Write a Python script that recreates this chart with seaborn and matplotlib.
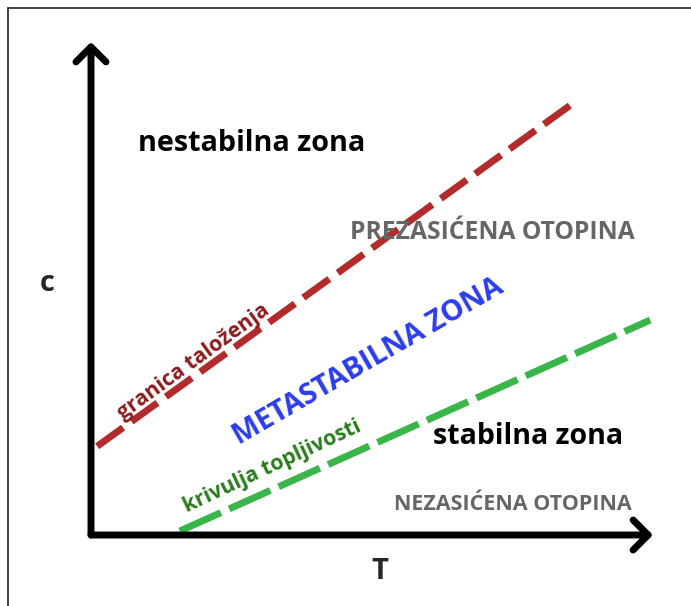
import matplotlib
matplotlib.use('Agg')
import matplotlib.pyplot as plt
from matplotlib.lines import Line2D
import seaborn as sns
import pandas as pd

# boundary lines (T, c) endpoints
red_T = [0.11, 8.58]
red_c = [1.80, 8.76]
green_T = [1.58, 9.95]
green_c = [0.08, 4.36]

zone_labels = ['nestabilna zona', 'PREZASIĆENA OTOPINA', 'METASTABILNA ZONA',
               'stabilna zona', 'NEZASIĆENA OTOPINA']
zone_T = [2.85, 7.14, 4.93, 7.78, 7.51]
zone_c = [7.95, 6.13, 3.51, 1.99, 0.61]

sns.set_theme(style='white')
plt.rcParams['font.family'] = ['Open Sans', 'DejaVu Sans']

fig = plt.figure(figsize=(6.91, 6.06), dpi=100)
ax = fig.add_axes([0, 0, 1, 1])

df = pd.DataFrame({
    'T': red_T + green_T,
    'c': red_c + green_c,
    'line': ['granica taloženja'] * 2 + ['krivulja topljivosti'] * 2,
})
sns.lineplot(data=df[df['line'] == 'granica taloženja'], x='T', y='c', ax=ax,
             color='#b22a2a', lw=5, linestyle=(0, (4.6, 1.5)), legend=False)
sns.lineplot(data=df[df['line'] == 'krivulja topljivosti'], x='T', y='c', ax=ax,
             color='#3ab54a', lw=5, linestyle=(0, (6.5, 1.3)), legend=False)

# axes arrows
arrow = dict(arrowstyle='->,head_length=0.9,head_width=0.9', lw=5, color='black',
             shrinkA=0, shrinkB=0, joinstyle='round', capstyle='round')
ax.annotate('', xy=(10, 0), xytext=(0, 0), arrowprops=arrow)
ax.annotate('', xy=(0, 10), xytext=(0, 0), arrowprops=arrow)

ax.set_xlim(-1.619, 10.676)
ax.set_ylim(-1.440, 10.852)
ax.axis('off')

ax.text(-0.78, 5.11, 'c', fontsize=21, fontweight='bold', ha='center', va='center')
ax.text(5.14, -0.75, 'T', fontsize=21, fontweight='bold', ha='center', va='center')

colors = ['black', '#666666', '#2a3cf0', 'black', '#666666']
sizes = [20.7, 17.7, 20.7, 20.5, 15.5]
rots = [0, 0, 30, 0, 0]
for lab, t, c, col, s, r in zip(zone_labels, zone_T, zone_c, colors, sizes, rots):
    ax.text(t, c, lab, color=col, fontsize=s, fontweight='bold', ha='center', va='center',
            rotation=r, rotation_mode='anchor')

ax.text(1.82, 3.51, 'granica taloženja', color='#8b1c1c', fontsize=15.4, fontweight='bold',
        ha='center', va='center', rotation=36, rotation_mode='anchor')
ax.text(3.22, 1.38, 'krivulja topljivosti', color='#2a7d1a', fontsize=15.3, fontweight='bold',
        ha='center', va='center', rotation=25, rotation_mode='anchor')

# frame around picture (left and top only visible)
fig.add_artist(Line2D([0.0116, 0.0116], [0, 0.9868], transform=fig.transFigure, color='#222222', lw=1.2))
fig.add_artist(Line2D([0.0116, 1], [0.9868, 0.9868], transform=fig.transFigure, color='#222222', lw=1.2))

fig.savefig('out.png', dpi=100)
